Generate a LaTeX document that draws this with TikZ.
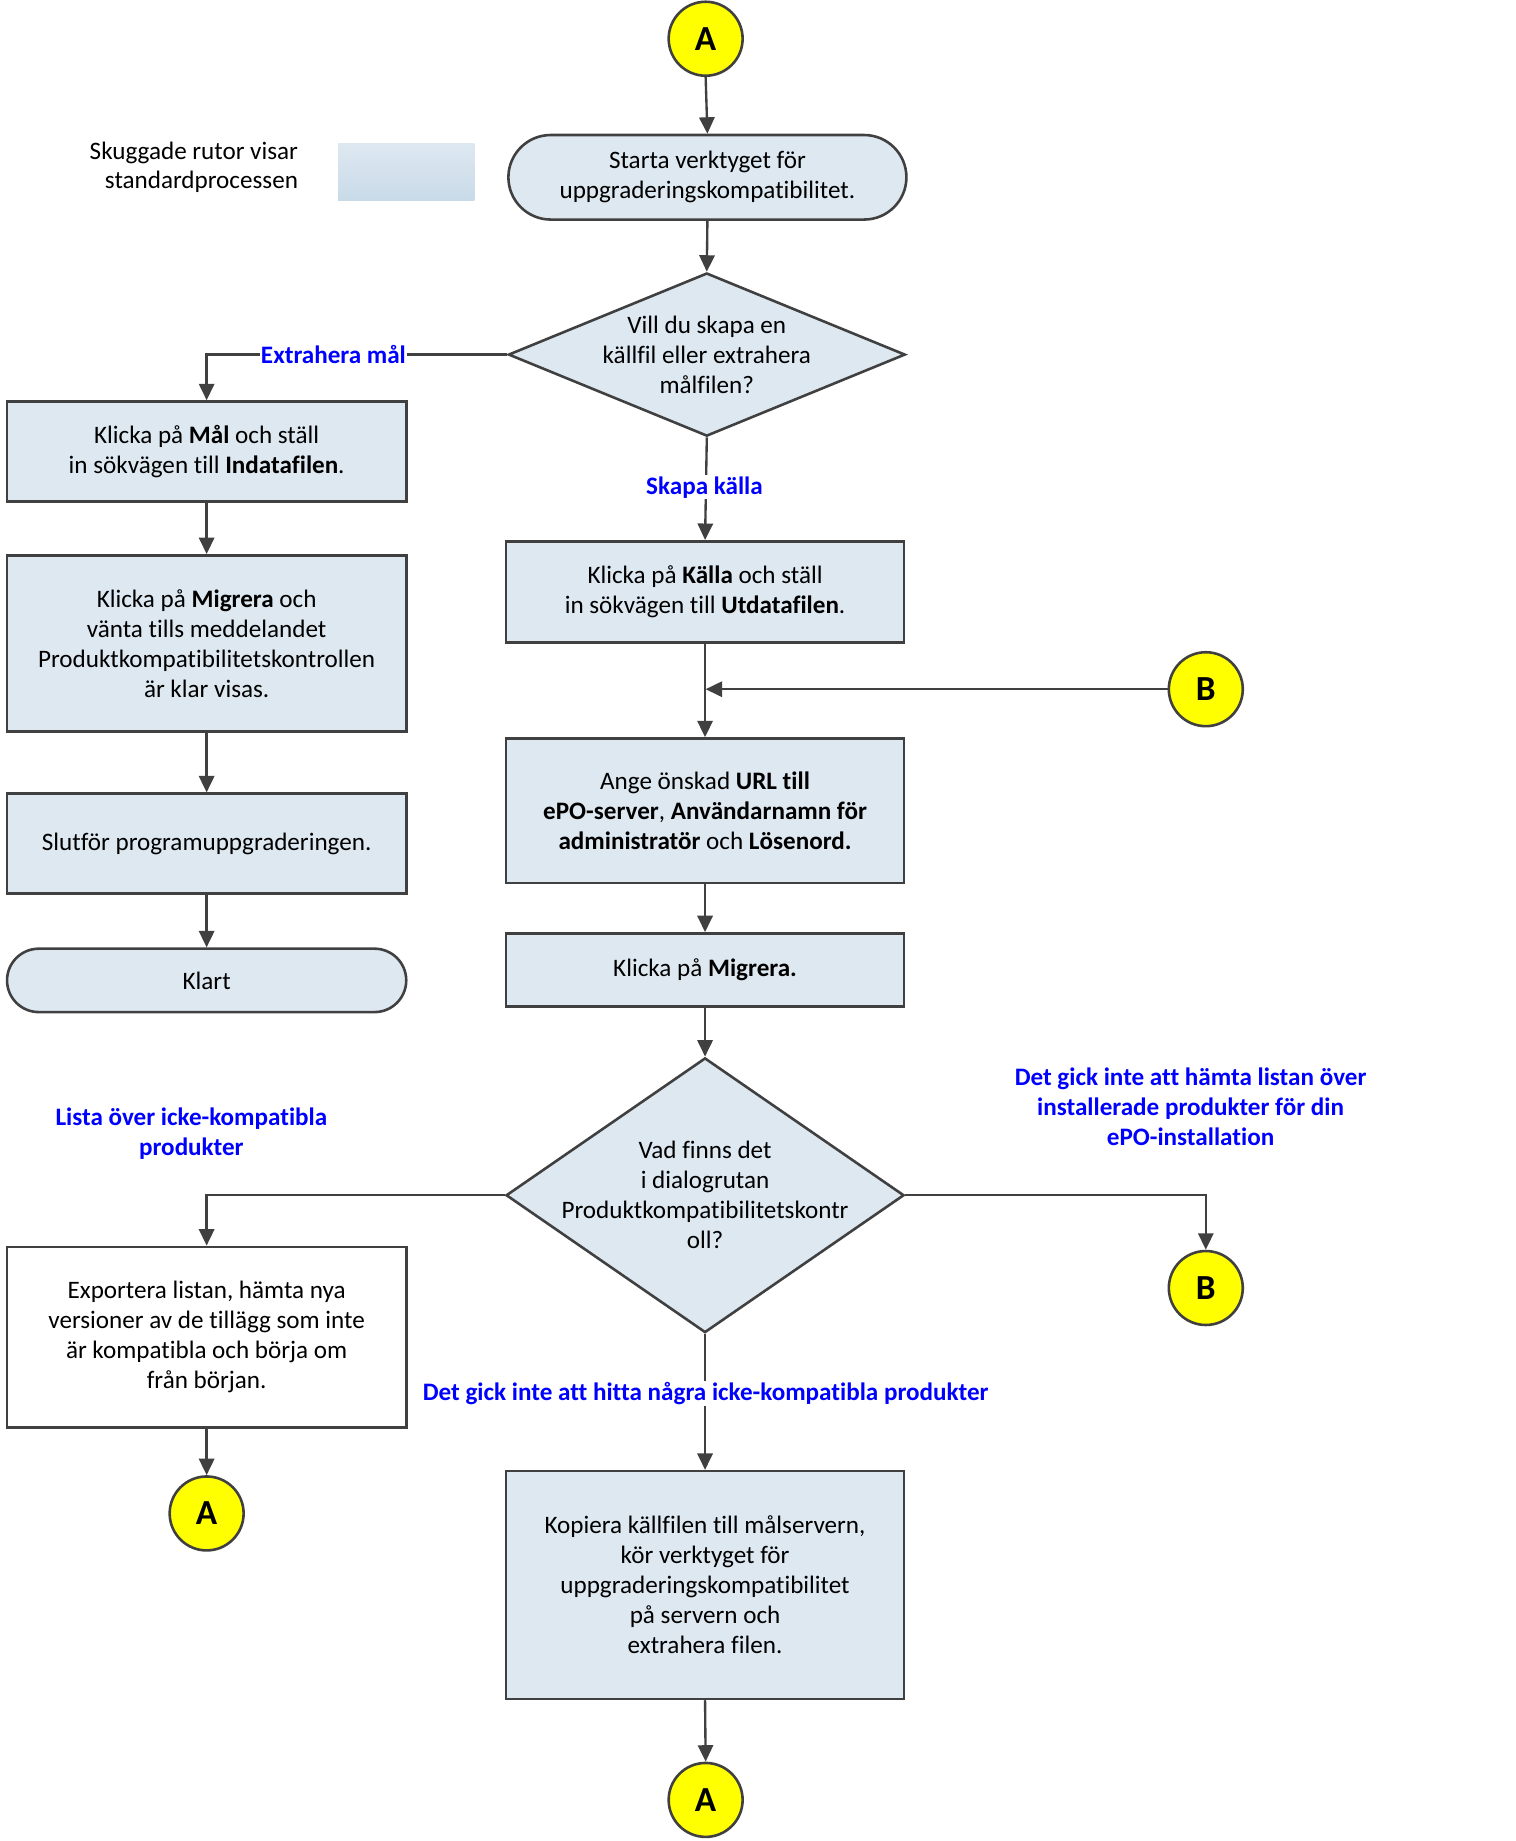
\documentclass[tikz,border=0pt]{standalone}
\usepackage{fontspec}
\setmainfont{Carlito}[Ligatures=NoCommon]
\usetikzlibrary{arrows.meta,shapes.geometric}
\definecolor{lc}{HTML}{404040}
\definecolor{bf}{HTML}{DEE8F1}
\definecolor{bf2}{HTML}{C8DAE8}
\definecolor{yl}{HTML}{FFFF00}
\definecolor{lb}{HTML}{0000FF}
\newcommand{\fs}{\fontsize{21.4}{25.5}\selectfont}
\tikzset{
  box/.style={draw=lc,line width=2.2pt,fill=bf,rectangle,inner sep=0pt,align=center,font=\fs},
  wbox/.style={box,fill=white},
  term/.style={box,rounded corners=#1},
  dia/.style={draw=lc,line width=2.2pt,fill=bf,diamond,inner sep=0pt},
  dtext/.style={align=center,font=\fs},
  conn/.style={draw=lc,line width=2.2pt,fill=yl,circle,minimum size=63pt,inner sep=0pt,font=\fontsize{30}{30}\selectfont\bfseries},
  arr/.style={draw=lc,line width=2pt,-{Triangle[length=14pt,width=13pt]}},
  lbl/.style={text=lb,font=\fs\bfseries,align=center,inner sep=1pt},
}
\begin{document}
\begin{tikzpicture}[x=1pt,y=-1pt]
\useasboundingbox (0,0) rectangle (1291,1568);
% legend
\node[anchor=east,align=right,font=\fs,inner sep=1pt] (legtxt) at (255,142.5) {Skuggade rutor visar\\standardprocessen};
\shade[top color=bf,bottom color=bf2] (288,122) rectangle (404,171);
% connector circles
\node[conn] (A1) at (601,33) {A};
\node[conn] (B1) at (1027,587) {B};
\node[conn] (A2) at (176,1289) {A};
\node[conn] (B2) at (1027,1097) {B};
\node[conn] (A3) at (601,1533) {A};
% boxes
\node[term=36pt,minimum width=339pt,minimum height=72pt] (start) at (602.5,151) {Starta verktyget för\\uppgraderingskompatibilitet.};
\node[dia,minimum width=338pt,minimum height=139pt] (D1) at (602,302) {};
\node[dtext] (D1t) at (602,302) {Vill du skapa en\\källfil eller extrahera\\målfilen?};
\node[box,minimum width=340pt,minimum height=85pt] (L1) at (176,384.5) {Klicka på \textbf{Mål} och ställ\\in sökvägen till \textbf{Indatafilen}.};
\node[box,minimum width=339pt,minimum height=86pt] (C1) at (600.5,504) {Klicka på \textbf{Källa} och ställ\\in sökvägen till \textbf{Utdatafilen}.};
\node[box,minimum width=340pt,minimum height=150pt] (L2) at (176,548) {Klicka på \textbf{Migrera} och\\vänta tills meddelandet\\Produktkompatibilitetskontrollen\\är klar visas.};
\node[box,minimum width=340pt,minimum height=85pt] (L3) at (176,718.5) {Slutför programuppgraderingen.};
\node[term=27pt,minimum width=340pt,minimum height=54pt] (klart) at (176,835) {Klart};
\node[box,minimum width=339pt,minimum height=123pt] (C2) at (600.5,690.5) {Ange önskad \textbf{URL till}\\\textbf{ePO-server}, \textbf{Användarnamn för}\\\textbf{administratör} och \textbf{Lösenord.}};
\node[box,minimum width=339pt,minimum height=62pt] (C3) at (600.5,826) {Klicka på \textbf{Migrera.}};
\node[dia,minimum width=339pt,minimum height=234pt] (D2) at (600.5,1018) {};
\node[dtext] (D2t) at (600.5,1018) {Vad finns det\\i dialogrutan\\Produktkompatibilitetskontr\\oll?};
\node[wbox,minimum width=340pt,minimum height=154pt] (L4) at (176,1139) {Exportera listan, hämta nya\\versioner av de tillägg som inte\\är kompatibla och börja om\\från början.};
\node[box,minimum width=339pt,minimum height=194pt] (C4) at (600.5,1350) {Kopiera källfilen till målservern,\\kör verktyget för\\uppgraderingskompatibilitet\\på servern och\\extrahera filen.};
% arrows
\coordinate (j1) at (601,587);
\draw[arr] (A1.south) -- (start.north);
\draw[arr] (start.south) -- (D1.north);
\draw[arr] (D1.west) -| (L1.north);
\draw[arr] (D1.south) -- (C1.north);
\draw[arr] (L1.south) -- (L2.north);
\draw[arr] (L2.south) -- (L3.north);
\draw[arr] (L3.south) -- (klart.north);
\draw[arr] (C1.south) -- (C2.north);
\draw[arr] (B1.west) -- (j1);
\draw[arr] (C2.south) -- (C3.north);
\draw[arr] (C3.south) -- (D2.north);
\draw[arr] (D2.west) -| (L4.north);
\draw[arr] (D2.east) -| (B2.north);
\draw[arr] (D2.south) -- (C4.north);
\draw[arr] (L4.south) -- (A2.north);
\draw[arr] (C4.south) -- (A3.north);
% labels
\node[lbl,fill=white] (l1) at (284,302) {Extrahera mål};
\node[lbl,fill=white] (l2) at (600,415) {Skapa källa};
\node[lbl] (l3) at (163,965.5) {Lista över icke-kompatibla\\produkter};
\node[lbl] (l4) at (1014,942.5) {Det gick inte att hämta listan över\\installerade produkter för din\\ePO-installation};
\node[lbl,fill=white] (l5) at (601,1187) {Det gick inte att hitta några icke-kompatibla produkter};
\end{tikzpicture}
\end{document}
